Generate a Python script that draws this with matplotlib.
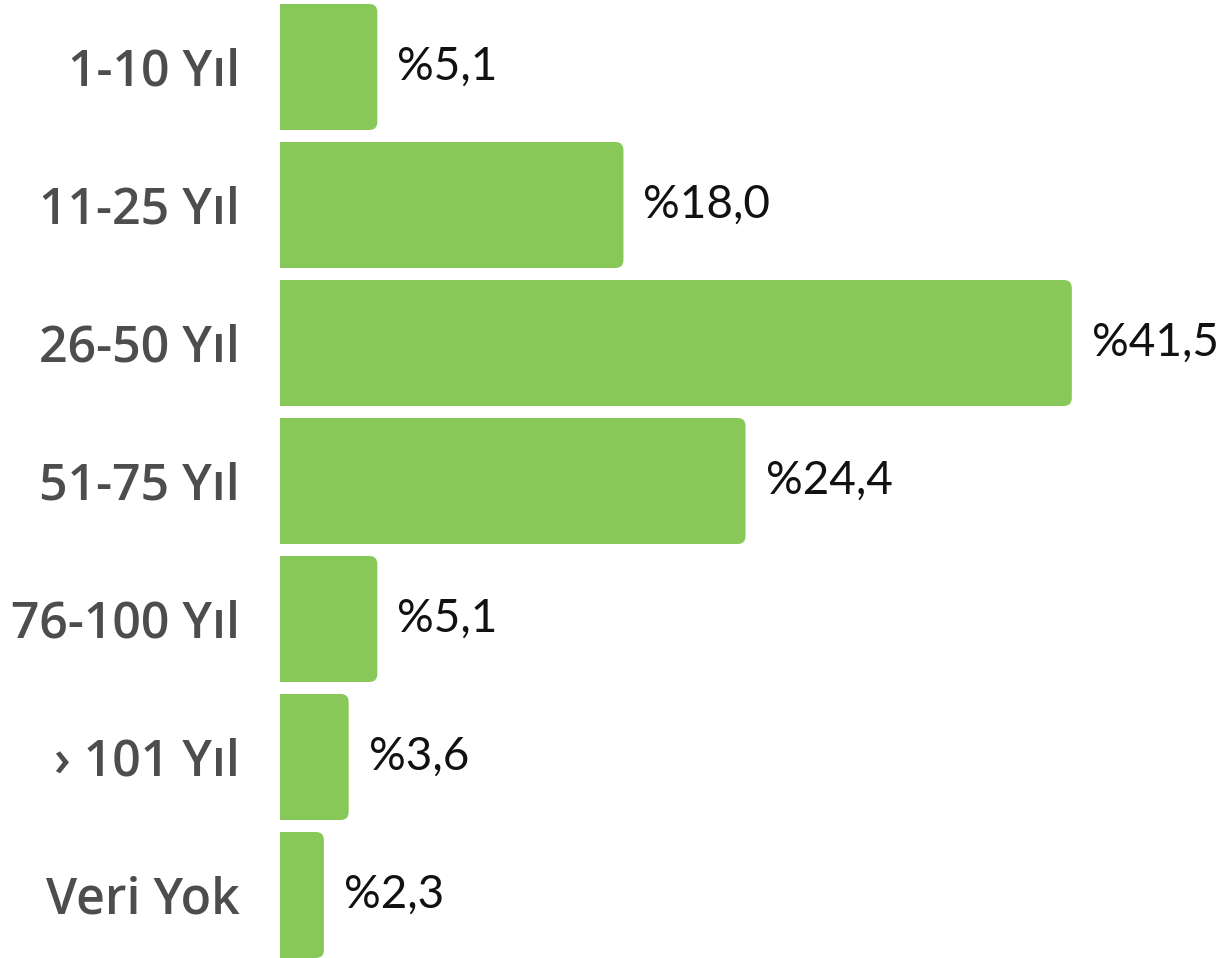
import matplotlib
matplotlib.use("Agg")
import matplotlib.pyplot as plt
from matplotlib.patches import FancyBboxPatch

categories = ["1-10 Yıl", "11-25 Yıl", "26-50 Yıl", "51-75 Yıl", "76-100 Yıl", "› 101 Yıl", "Veri Yok"]
values = [5.1, 18.0, 41.5, 24.4, 5.1, 3.6, 2.3]
value_labels = ["%5,1", "%18,0", "%41,5", "%24,4", "%5,1", "%3,6", "%2,3"]

W, H = 1224, 958
fig = plt.figure(figsize=(W / 100, H / 100), dpi=100)
ax = fig.add_axes([280 / W, 0, 1 - 280 / W, 1])

bar_color = "#88C859"
ypos = list(range(len(categories)))
bars = ax.barh(ypos, values, height=0.913, color="none")
ax.set_xlim(0, 944 / 19.08)
ax.set_ylim(6 + 63 / 138, -67 / 138)

xpx = 19.08
ypx = 138.0
r = 8 / xpx
for b in bars:
    x0, y0, w, h = b.get_x(), b.get_y(), b.get_width(), b.get_height()
    p = FancyBboxPatch((x0 - 2, y0), w + 2, h,
                       boxstyle=f"round,pad=0,rounding_size={r}",
                       mutation_aspect=xpx / ypx,
                       facecolor=bar_color, edgecolor="none")
    ax.add_patch(p)

for y, v, lab in zip(ypos, values, value_labels):
    ax.text(v + 20 / xpx, y, lab, va="center", ha="left",
            fontsize=33, color="#111111", family="Lato", fontweight="normal")

ax.set_yticks(ypos)
ax.set_yticklabels(categories, family="Open Sans", fontweight="semibold",
                   fontsize=36, color="#4D4D4D")
ax.tick_params(axis="y", length=0, pad=29)
ax.set_xticks([])
for s in ax.spines.values():
    s.set_visible(False)

fig.savefig("out.png", dpi=100)
